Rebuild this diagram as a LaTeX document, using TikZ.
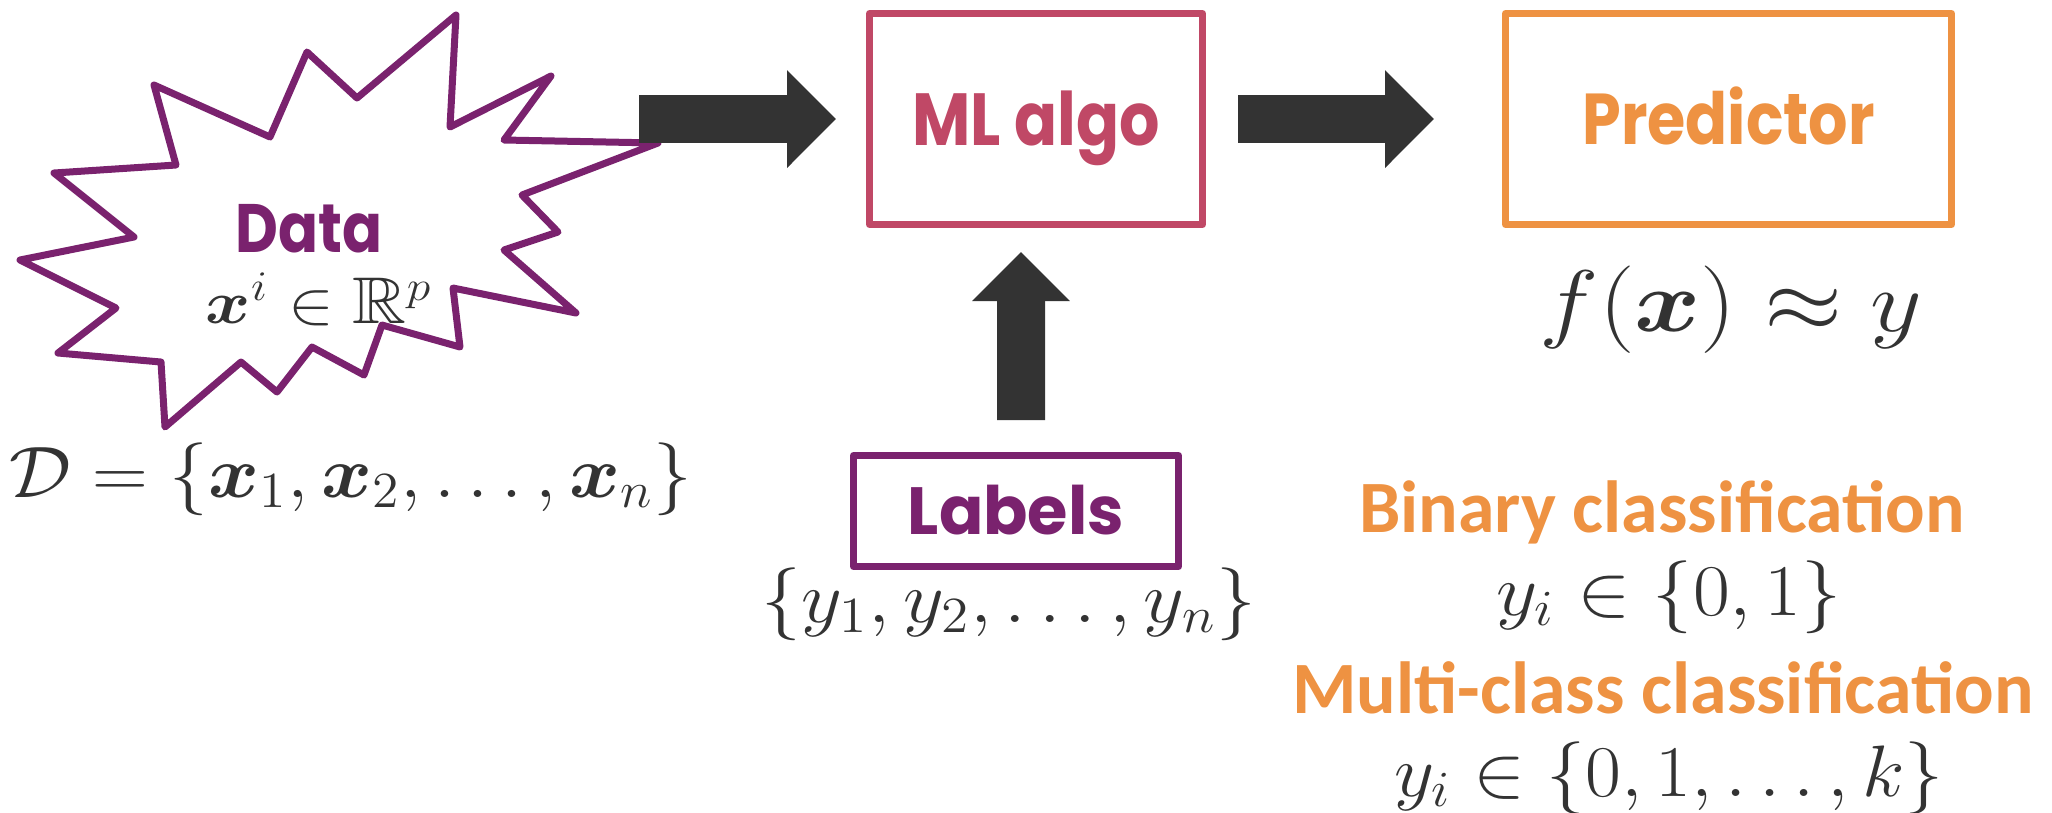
\documentclass[tikz,border=0pt]{standalone}
\usepackage{amsmath, amssymb}
\usepackage{graphicx}
\usepackage{fontspec}
\usepackage{tikz}
\usetikzlibrary{arrows.meta}

\newfontfamily\poppins{Poppins}
\newfontfamily\carlito{Carlito}

\definecolor{datapurple}{RGB}{122,34,110}
\definecolor{algored}{RGB}{192,72,102}
\definecolor{predorange}{RGB}{238,146,66}
\definecolor{arrowgray}{RGB}{51,51,51}
\definecolor{mathgray}{RGB}{51,51,51}

\begin{document}
\begin{tikzpicture}[x=0.1mm, y=-0.1mm,
  box/.style 2 args={draw, line width=0.7mm, line join=round, inner sep=0pt,
    font=\poppins\bfseries\fontsize{#1}{#1}\selectfont, text height=#2, text depth=0pt},
  bigarrow/.style={draw=arrowgray, line width=4.8mm, -{Triangle[length=4.9mm, width=9.5mm]}},
  mathtext/.style={anchor=base, text=mathgray, font=\fontsize{#1}{#1}\selectfont},
  headtext/.style={anchor=base, text=predorange, font=\carlito\bfseries\fontsize{21pt}{25pt}\selectfont}]
  \useasboundingbox (0,0) rectangle (2052,812);

  % data burst
  \draw[datapurple, line width=0.7mm, line join=round]
    (456,15) -- (450,127) -- (551,76) -- (504,140) -- (658,143) -- (522,195)
    -- (558,232) -- (504,250) -- (576,313) -- (453,288) -- (460,347) -- (382,325)
    -- (364,375) -- (312,347) -- (277,392) -- (241,362) -- (165,427) -- (161,362)
    -- (58,353) -- (116,308) -- (20,260) -- (134,237) -- (54,173) -- (176,165)
    -- (154,85) -- (270,137) -- (307,52) -- (357,98) -- cycle;
  \node[anchor=base, text=datapurple, font=\poppins\bfseries\fontsize{19.5pt}{23pt}\selectfont] (data) at (309,252) {\scalebox{0.86}[1]{Data}};
  \node[mathtext=18.8pt] (datavec) at (319,323) {\scalebox{1.13}[1]{$\boldsymbol{x}^i \in \mathbb{R}^p$}};
  \node[mathtext=20.8pt] (dataset) at (351,497) {\scalebox{1.06}[1]{$\mathcal{D} = \{\boldsymbol{x}_1, \boldsymbol{x}_2, \ldots, \boldsymbol{x}_n\}$}};
  \coordinate (datatip) at (639,119);

  % boxes
  \node[box={21pt}{5.2mm}, draw=algored, text=algored, minimum width=33.3mm, minimum height=21.1mm] (algo) at (1036,119) {\scalebox{0.86}[1]{ML algo}};
  \node[box={20.5pt}{5mm}, draw=predorange, text=predorange, minimum width=44.6mm, minimum height=21.1mm] (pred) at (1728.5,119) {\scalebox{0.86}[1]{Predictor}};
  \node[box={19pt}{4.6mm}, draw=datapurple, text=datapurple, minimum width=32.5mm, minimum height=11.1mm] (labels) at (1016,511) {\scalebox{0.98}[1]{Labels}};

  % arrows
  \draw[bigarrow] (datatip) -- ([xshift=-3mm]algo.west);
  \draw[bigarrow] ([xshift=3.2mm]algo.east) -- ([xshift=-6.8mm]pred.west);
  \draw[bigarrow] ([xshift=0.5mm, yshift=3.2mm]labels.north) -- ([xshift=-1.5mm, yshift=-2.4mm]algo.south);

  % texts under the boxes
  \node[mathtext=20.8pt] (labelset) at (1009,622) {\scalebox{1.09}[1]{$\{y_1, y_2, \ldots, y_n\}$}};
  \node[mathtext=27.6pt] (predf) at (1731,331) {\scalebox{1.15}[1]{$f(\boldsymbol{x}) \approx y$}};
  \node[headtext] (binary) at (1662,532) {Binary classification};
  \node[mathtext=20.8pt] (binaryset) at (1669,615) {\scalebox{1.1}[1]{$y_i \in \{0, 1\}$}};
  \node[headtext] (multi) at (1663,713) {Multi-class classification};
  \node[mathtext=20.8pt] (multiset) at (1669,796) {\scalebox{1.07}[1]{$y_i \in \{0, 1, \ldots, k\}$}};
\end{tikzpicture}
\end{document}
